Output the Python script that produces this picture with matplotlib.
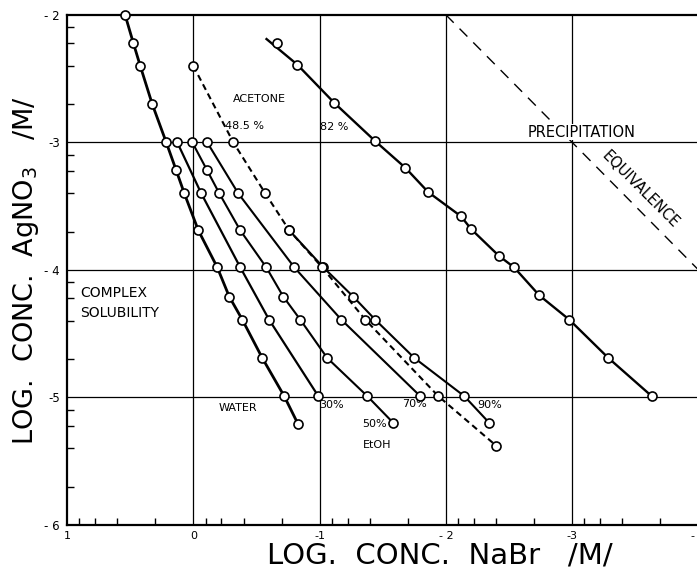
import matplotlib
matplotlib.use("Agg")
import matplotlib.pyplot as plt
import numpy as np

# log conc NaBr (x) vs log conc AgNO3 (y)
water_x = [0.54, 0.475, 0.42, 0.325, 0.214, 0.135, 0.071, -0.04, -0.19, -0.285, -0.388, -0.546, -0.72, -0.83]
water_y = [-2.0, -2.22, -2.4, -2.7, -3.0, -3.22, -3.4, -3.69, -3.98, -4.21, -4.39, -4.69, -4.99, -5.21]

etoh30_x = [0.127, -0.063, -0.372, -0.60, -0.99]
etoh30_y = [-3.0, -3.4, -3.98, -4.39, -4.99]

etoh50_x = [0.008, -0.11, -0.206, -0.372, -0.578, -0.713, -0.847, -1.06, -1.378, -1.584]
etoh50_y = [-3.0, -3.22, -3.4, -3.69, -3.98, -4.21, -4.39, -4.69, -4.99, -5.2]

etoh70_x = [-0.11, -0.356, -0.80, -1.172, -1.797]
etoh70_y = [-3.0, -3.4, -3.98, -4.39, -4.99]

etoh90_x = [-0.76, -1.03, -1.267, -1.44, -1.75, -2.146, -2.344]
etoh90_y = [-3.69, -3.98, -4.21, -4.39, -4.69, -4.99, -5.2]

acet48_x = [0.0, -0.317, -0.57, -0.76, -1.02, -1.362, -1.94, -2.40]
acet48_y = [-2.4, -3.0, -3.4, -3.69, -3.98, -4.39, -4.99, -5.38]

acet82_x = [-0.665, -0.823, -1.116, -1.44, -1.68, -1.86, -2.12, -2.20, -2.42, -2.54, -2.74, -2.977, -3.286, -3.63]
acet82_y = [-2.22, -2.39, -2.69, -2.99, -3.2, -3.39, -3.58, -3.68, -3.89, -3.98, -4.2, -4.39, -4.69, -4.99]
acet82_start = (-0.58, -2.19)  # where the drawn line begins

equiv_x = [-2.0, -4.0]
equiv_y = [-2.0, -4.0]

x_major = [1, 0, -1, -2, -3, -4]
x_labels = ["1", "0", "-1", "- 2", "-3", "- 4"]
y_major = [-2, -3, -4, -5, -6]
y_labels = ["- 2", "-3", "- 4", "-5", "- 6"]
minor_steps = [2, 4, 6, 8]

fig = plt.figure(figsize=(6.97, 5.70), dpi=100)
ax = fig.add_axes([0.0961, 0.079, 0.906, 0.895])
ax.set_xlim(1, -4)
ax.set_ylim(-6, -2)

# grid lines at the whole decades
for gx in [0, -1, -2, -3]:
    ax.axvline(gx, color="black", lw=0.9, zorder=1)
for gy in [-3, -4, -5]:
    ax.axhline(gy, color="black", lw=0.9, zorder=1)

mk = dict(marker="o", ms=6.5, mfc="white", mec="black", mew=1.2, zorder=4, clip_on=False)

ax.plot(water_x, water_y, color="black", lw=2.0, **mk)
ax.plot(etoh30_x, etoh30_y, color="black", lw=1.6, **mk)
ax.plot(etoh50_x, etoh50_y, color="black", lw=1.5, **mk)
ax.plot(etoh70_x, etoh70_y, color="black", lw=1.5, **mk)
ax.plot(etoh90_x, etoh90_y, color="black", lw=1.5, **mk)
ax.plot(acet48_x, acet48_y, color="black", lw=1.5, ls=(0, (3, 2)), **mk)

ax.plot([acet82_start[0]] + acet82_x[1:], [acet82_start[1]] + acet82_y[1:],
        color="black", lw=1.7, zorder=3)
ax.plot(acet82_x, acet82_y, ls="none", **mk)

ax.plot(equiv_x, equiv_y, color="black", lw=1.0, ls=(0, (8, 6)), zorder=2)

# labels inside the plot
tk = dict(fontsize=8, color="black", va="center", ha="left")
ax.text(-0.31, -2.66, "ACETONE", **tk)
ax.text(-0.25, -2.87, "48.5 %", **tk)
ax.text(-1.005, -2.88, "82 %", **tk)
ax.text(-2.645, -2.92, "PRECIPITATION", fontsize=10.5, va="center", ha="left",
        bbox=dict(facecolor="white", edgecolor="none", pad=0.5), zorder=5)
ax.text(-3.54, -3.37, "EQUIVALENCE", fontsize=10.5, rotation=-45,
        ha="center", va="center", rotation_mode="anchor")
ax.text(0.895, -4.18, "COMPLEX", fontsize=10, va="center", ha="left")
ax.text(0.895, -4.34, "SOLUBILITY", fontsize=10, va="center", ha="left")
ax.text(-0.2, -5.08, "WATER", **tk)
ax.text(-1.0, -5.06, "30%", **tk)
ax.text(-1.655, -5.05, "70%", **tk)
ax.text(-2.25, -5.06, "90%", **tk)
ax.text(-1.34, -5.21, "50%", **tk)
ax.text(-1.34, -5.37, "EtOH", **tk)

# ticks: labels at decades, small inward ticks at 2,4,6,8
ax.set_xticks(x_major)
ax.set_xticklabels(x_labels, fontsize=8)
ax.set_yticks(y_major)
ax.set_yticklabels(y_labels, fontsize=8.5)
xminor = [d - 1 + np.log10(s) for d in [1, 0, -1, -2, -3] for s in minor_steps]
yminor = [d - 1 + np.log10(s) for d in [-2, -3, -4, -5] for s in minor_steps]
ax.set_xticks(xminor, minor=True)
ax.set_yticks(yminor, minor=True)
ax.tick_params(axis="x", which="major", length=0, pad=4)
ax.tick_params(axis="y", which="major", length=0, pad=5)
ax.tick_params(which="minor", direction="in", length=5, width=1)
ax.tick_params(top=False, right=False)

for side in ["left", "top", "bottom"]:
    ax.spines[side].set_linewidth(1.6)
ax.spines["right"].set_visible(False)

# axis titles placed as in the scan
fig.text(0.631, 0.026, "LOG.  CONC.  NaBr   /M/", fontsize=21, ha="center", va="center")
fig.text(0.038, 0.526, "LOG.  CONC.  AgNO$_3$   /M/", fontsize=19.5, ha="center", va="center",
         rotation=90)

fig.savefig("out.png", dpi=100)
